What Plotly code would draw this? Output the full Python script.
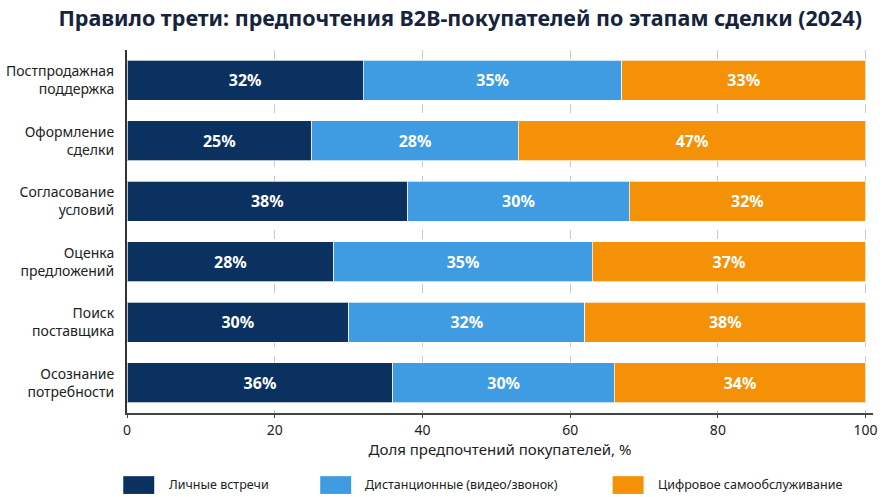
import plotly.graph_objects as go

# stages, listed bottom to top
stages = ['Осознание<br>потребности', 'Поиск<br>поставщика', 'Оценка<br>предложений',
          'Согласование<br>условий', 'Оформление<br>сделки', 'Постпродажная<br>поддержка']
in_person = [36, 30, 28, 38, 25, 32]
remote = [30, 32, 35, 30, 28, 35]
digital = [34, 38, 37, 32, 47, 33]

series_names = ['Личные встречи', 'Дистанционные (видео/звонок)', 'Цифровое самообслуживание']
colors = ['#0b3161', '#3f9be2', '#f59107']

fig = go.Figure()
for name, vals, col in zip(series_names, [in_person, remote, digital], colors):
    fig.add_bar(name=name, y=stages, x=vals, orientation='h',
                marker=dict(color=col, line=dict(color='rgba(255,255,255,0.7)', width=1)),
                text=[f'{v}%' for v in vals], textposition='inside', insidetextanchor='middle',
                textfont=dict(color='white', size=16, family='Noto Sans', weight='bold'),
                hoverinfo='x+y+name')

fig.update_layout(
    barmode='stack', bargap=0.34,
    width=885, height=497,
    margin=dict(l=127, r=12, t=50, b=84),
    paper_bgcolor='white', plot_bgcolor='white',
    font=dict(family='Noto Sans', color='#222222'),
    showlegend=False,
    title=dict(text='<b>Правило трети: предпочтения B2B-покупателей по этапам сделки (2024)</b>',
               x=0.52, xanchor='center', y=0.963, yanchor='middle',
               font=dict(size=21.5, color='#16233d')),
)
fig.update_xaxes(range=[0, 101], tickvals=[0, 20, 40, 60, 80, 100], automargin=False,
                 showgrid=True, gridcolor='#c8c8c8', griddash='dash', gridwidth=1,
                 showline=True, linecolor='#444444', linewidth=2,
                 ticks='outside', ticklen=3, tickcolor='#444444',
                 tickfont=dict(size=14, color='#222222'),
                 title=dict(text='Доля предпочтений покупателей, %', font=dict(size=15), standoff=4),
                 zeroline=False)
fig.update_yaxes(showline=True, linecolor='#333333', linewidth=2, ticks='', automargin=False,
                 ticklabelstandoff=8, tickfont=dict(size=14, color='#222222'))

# custom legend with big swatches (paper coords)
leg_x = [-0.005, 0.259, 0.651]
for name, col, x0 in zip(series_names, colors, leg_x):
    fig.add_shape(type='rect', xref='paper', yref='paper',
                  x0=x0, x1=x0 + 0.0415, y0=-0.223, y1=-0.174,
                  fillcolor=col, line=dict(width=0))
    fig.add_annotation(xref='paper', yref='paper', x=x0 + 0.058, y=-0.198,
                       text=name, showarrow=False, xanchor='left', yanchor='middle',
                       font=dict(size=12.5, color='#222222'))

# page body has a default margin that would push the chart off the window
fig.write_html("out.html", config={'displayModeBar': False},
               post_script="document.body.style.margin='0';")
